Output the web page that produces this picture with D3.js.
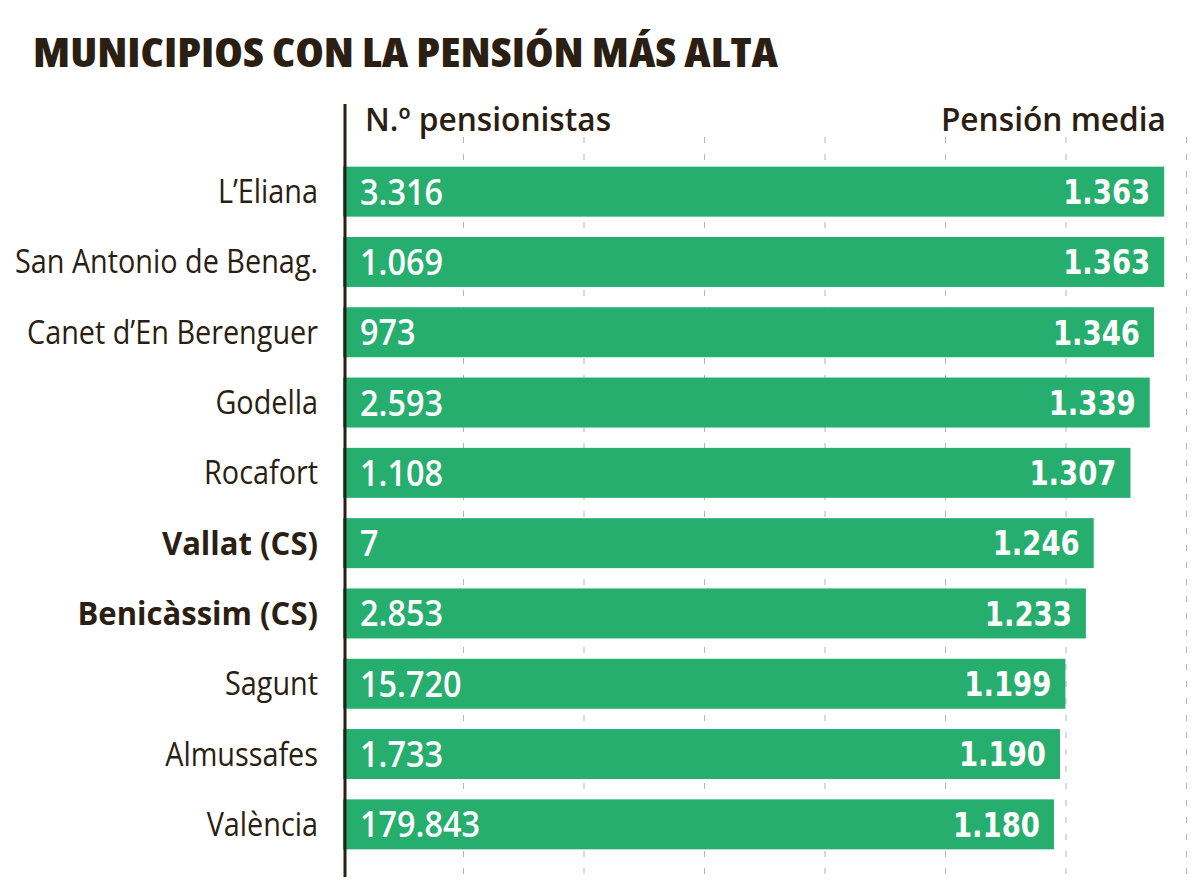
<!DOCTYPE html>
<html>
<head>
<meta charset="utf-8">
<script src="https://cdn.jsdelivr.net/npm/d3@7"></script>
<style>
  html, body { margin: 0; padding: 0; background: #fff; }
  svg { display: block; }
  .cond { font-family: "Open Sans", "DejaVu Sans", sans-serif; font-stretch: 75%; }
  .norm { font-family: "Open Sans", "DejaVu Sans", sans-serif; }
  .num { font-family: "DejaVu Sans", sans-serif; font-stretch: condensed; }
</style>
</head>
<body>
<svg id="chart" width="1200" height="894"></svg>
<script>
const title = "MUNICIPIOS CON LA PENSIÓN MÁS ALTA";
const leftHeader = "N.º pensionistas";
const rightHeader = "Pensión media";
const municipios = ["L\u2019Eliana", "San Antonio de Benag.", "Canet d\u2019En Berenguer", "Godella", "Rocafort", "Vallat (CS)", "Benicàssim (CS)", "Sagunt", "Almussafes", "València"];
const destacados = ["Vallat (CS)", "Benicàssim (CS)"];
const pensionistas = [3316, 1069, 973, 2593, 1108, 7, 2853, 15720, 1733, 179843];
const pensionMedia = [1363, 1363, 1346, 1339, 1307, 1246, 1233, 1199, 1190, 1180];
const gridTicks = [200, 400, 600, 800, 1000, 1200, 1400];

const ink = "#2b1e12";
const green = "#25ae6e";
const fmt = d3.formatLocale({decimal: ",", thousands: ".", grouping: [3], currency: ["", "€"]}).format(",d");

const data = municipios.map((m, i) => ({m, n: pensionistas[i], p: pensionMedia[i]}));

const svg = d3.select("#chart");
const x = d3.scaleLinear().domain([0, 1400]).range([343, 1186.5]);
const y = d3.scaleBand().domain(municipios).range([156.5, 859.5]).paddingInner(0.289).paddingOuter(0.1445);
const cy = d => y(d.m) + y.bandwidth() / 2;

// title
svg.append("text").attr("class", "cond")
  .attr("x", 33).attr("y", 67)
  .attr("font-size", 40).attr("font-weight", 800).attr("fill", ink)
  .attr("textLength", 745).attr("lengthAdjust", "spacingAndGlyphs")
  .text(title);

// grid
svg.append("g").selectAll("line").data(gridTicks).join("line")
  .attr("x1", d => x(d)).attr("x2", d => x(d))
  .attr("y1", 137).attr("y2", 877)
  .attr("stroke", "#b5b5b5").attr("stroke-width", 1)
  .attr("stroke-dasharray", "6,11");

// headers
svg.append("text").attr("class", "norm")
  .attr("transform", "translate(365,131) scale(0.96,1)")
  .attr("font-size", 33).attr("font-weight", 600).attr("fill", ink)
  .text(leftHeader);
svg.append("text").attr("class", "norm")
  .attr("transform", "translate(1166,131) scale(0.96,1)")
  .attr("text-anchor", "end")
  .attr("font-size", 33).attr("font-weight", 600).attr("fill", ink)
  .text(rightHeader);

// bars
const rows = svg.append("g").selectAll("g").data(data).join("g");
rows.append("rect")
  .attr("x", x(0)).attr("y", d => y(d.m))
  .attr("width", d => x(d.p) - x(0)).attr("height", y.bandwidth())
  .attr("fill", green);

rows.append("text").attr("class", "norm")
  .attr("transform", d => `translate(318,${cy(d)}) scale(${destacados.includes(d.m) ? 0.97 : 0.9},1)`)
  .attr("dy", "0.36em").attr("text-anchor", "end")
  .attr("font-size", 32)
  .attr("font-weight", d => destacados.includes(d.m) ? 700 : 400)
  .attr("fill", ink)
  .text(d => d.m);

rows.append("text").attr("class", "norm")
  .attr("transform", d => `translate(360,${cy(d)}) scale(0.9,1)`)
  .attr("dy", "0.36em")
  .attr("font-size", 36).attr("font-weight", 600).attr("fill", "#fff")
  .text(d => fmt(d.n));

rows.append("text").attr("class", "num")
  .attr("transform", d => `translate(${x(d.p) - 14},${cy(d)}) scale(0.9,1)`)
  .attr("dy", "0.36em").attr("text-anchor", "end")
  .attr("font-size", 34).attr("font-weight", 700).attr("fill", "#fff")
  .text(d => fmt(d.p));

// axis line
svg.append("line")
  .attr("x1", 345).attr("x2", 345).attr("y1", 104).attr("y2", 877)
  .attr("stroke", ink).attr("stroke-width", 3);
</script>
</body>
</html>
